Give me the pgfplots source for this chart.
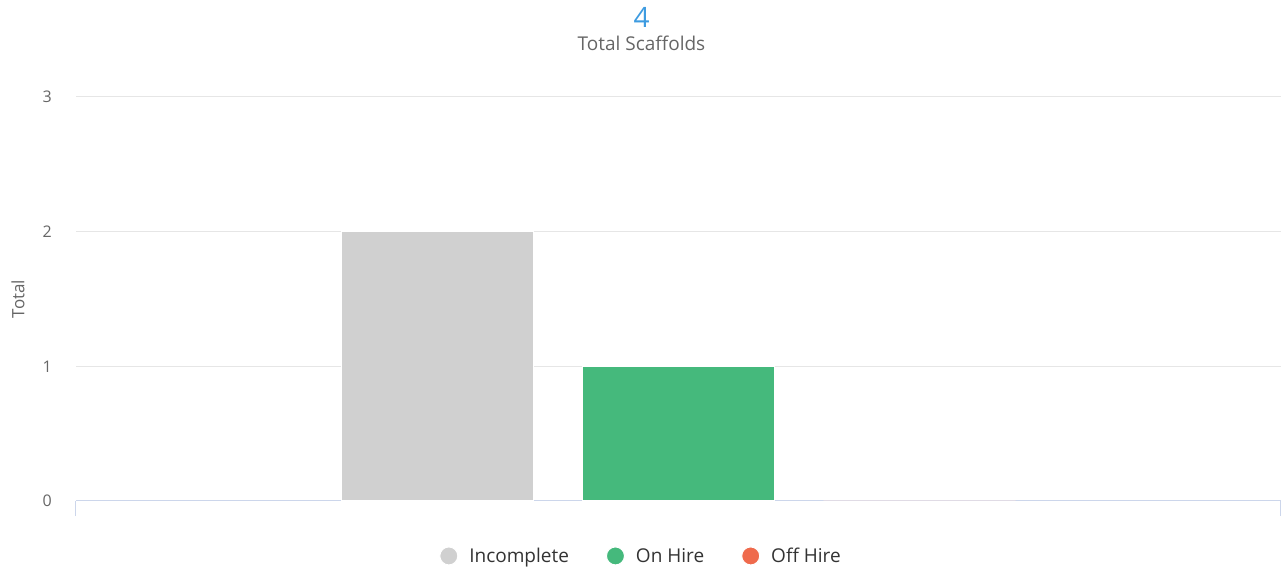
\documentclass[border=0pt]{standalone}
\usepackage{pgfplots}
\pgfplotsset{compat=1.18}
\usepackage{fontspec}
\setmainfont{Open Sans}
\definecolor{gridc}{HTML}{E6E6E6}
\definecolor{axc}{HTML}{CCD6EB}
\definecolor{incc}{HTML}{D0D0D0}
\definecolor{onc}{HTML}{45B97C}
\definecolor{offc}{HTML}{EF6A4C}
\definecolor{titc}{HTML}{3D9BE0}
\definecolor{labc}{HTML}{666666}
\definecolor{legc}{HTML}{333333}
\begin{document}
\begin{tikzpicture}[x=1pt,y=1pt]
\useasboundingbox (0,0) rectangle (1283,570);
\begin{axis}[
  at={(76pt,69pt)}, anchor=south west,
  scale only axis, width=1205pt, height=404pt,
  xmin=-2.5, xmax=2.5, ymin=0, ymax=3,
  ytick={0,1,2,3},
  xtick={-2.5,2.5}, xticklabels={,},
  axis x line*=bottom, axis y line*=left,
  x axis line style={draw=axc, line width=1pt, -},
  y axis line style={draw=none},
  ymajorgrids, grid style={draw=gridc, line width=1pt},
  xtick style={draw=axc, line width=1pt},
  ytick style={draw=none},
  tick align=outside,
  major tick length=15pt,
  /pgf/number format/assume math mode=true,
  yticklabel style={font=\fontsize{16}{18}\selectfont, text=labc, anchor=east, inner sep=0pt, xshift=-9pt},
  ylabel={Total},
  every axis y label/.style={at={(axis description cs:0,0.5)}, xshift=-58pt, anchor=center, rotate=90, font=\fontsize{17}{19}\selectfont, text=labc},
  clip=false,
  legend columns=3,
  legend style={at={(0.4693,-0.136)}, anchor=center, draw=none, fill=none,
    font=\fontsize{19}{21}\selectfont, text=legc,
    /tikz/every even column/.append style={column sep=34pt},
    nodes={inner sep=3pt}},
  legend image code/.code={\fill (0pt,0pt) circle (9pt);},
]
\addplot[ybar, bar width=0.797, bar shift=0pt, fill=incc, draw=white, line width=1pt] coordinates {(-1,2)};
\addlegendentry{\hspace{8pt}Incomplete}
\addplot[ybar, bar width=0.797, bar shift=0pt, fill=onc, draw=white, line width=1pt] coordinates {(0,1)};
\addlegendentry{\hspace{8pt}On Hire}
\addplot[ybar, bar width=0.797, bar shift=0pt, fill=offc, draw=white, line width=1pt] coordinates {(1,0)};
\addlegendentry{\hspace{8pt}Off Hire}
\node[font=\fontsize{28}{30}\selectfont, text=titc] at (rel axis cs:0.4693,1.198) {4};
\node[font=\fontsize{19}{21}\selectfont, text=labc] at (rel axis cs:0.4693,1.1337) {Total Scaffolds};
\end{axis}
\end{tikzpicture}
\end{document}
